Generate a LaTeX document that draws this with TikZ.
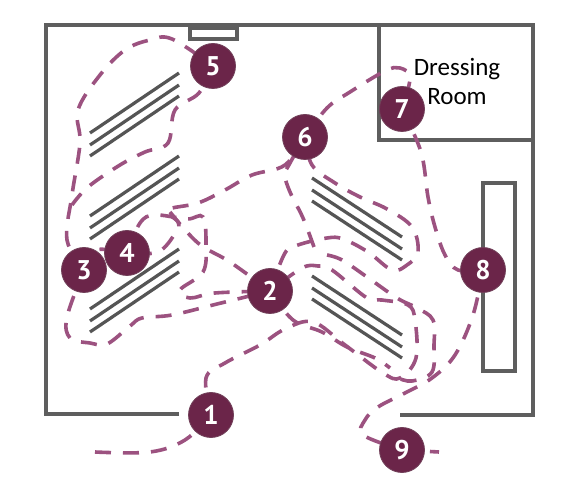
\documentclass[tikz,border=0pt]{standalone}
\usepackage{fontspec}
\setmainfont{Carlito}
\newfontfamily\numfont{PT Sans}
\usetikzlibrary{backgrounds}
\definecolor{plum}{HTML}{6B2549}
\definecolor{routec}{HTML}{9C5280}
\definecolor{wallc}{HTML}{5E5E5E}
\tikzset{
  wall/.style={draw=wallc,line width=3.4pt,line join=miter},
  rack/.style={draw=wallc!90!black,line width=3.2pt},
  route/.style={draw=routec,line width=3.6pt,dash pattern=on 16pt off 12pt},
  stopnode/.style={circle,fill=plum,draw=plum!70!gray,line width=0.8pt,minimum size=45pt,inner sep=0pt,text=white,font=\numfont\fontsize{27}{27}\selectfont\bfseries},
  label/.style={font=\fontsize{25}{25}\selectfont,text=black,inner sep=0pt}
}
\begin{document}
\begin{tikzpicture}[x=1pt,y=-1pt]
\useasboundingbox (0,0) rectangle (568,486);
\node[stopnode] (n1) at (211,415) {1};
\node[stopnode] (n2) at (270,291) {2};
\node[stopnode] (n3) at (84,270) {3};
\node[stopnode] (n4) at (127,253) {4};
\node[stopnode] (n5) at (213,66) {5};
\node[stopnode] (n6) at (305,137) {6};
\node[stopnode] (n7) at (402,109) {7};
\node[stopnode] (n8) at (483,270) {8};
\node[stopnode] (n9) at (402,450) {9};
\node[label] (dr) at (457,69) {Dressing};
\node[label] (rm) at (457,97) {Room};
\coordinate (s0) at (95,452);
\coordinate (e9) at (439,452);
\coordinate (t1) at (314,247);
\begin{pgfonlayer}{background}
\fill[white] (0,0) rectangle (568,486);
% walls
\draw[wall] (179,414) -- (46,414) -- (46,25) -- (533,25) -- (533,415) -- (400,415);
\draw[wall] (379,25) -- (379,140) -- (533,140);
\draw[wall] (190,28) rectangle (237,39);
\draw[wall] (483,183) rectangle (515,371);
% racks
\foreach \y in {0,12,23} {
  \draw[rack] (90,133+\y) -- (179,73+\y);
  \draw[rack] (90,216+\y) -- (179,156+\y);
  \draw[rack] (90,309+\y) -- (179,249+\y);
  \draw[rack] (312,178+\y) -- (402,237+\y);
  \draw[rack] (312,276+\y) -- (402,335+\y);
}
% routes
\draw[route] plot[smooth,tension=0.6] coordinates {(s0) (150,452) (185,440) (n1.center)};
\draw[route] plot[smooth,tension=0.6] coordinates {(n1.center) (206,378) (225,363) (260,345) (285,329) (313,322) (345,345) (383,373) (400,378) (416,358) (415,320) (408,305) (382,300) (367,298) (332,270) (318,266) (302,268) (n2.center)};
\draw[route] plot[smooth,tension=0.6] coordinates {(n2.center) (293,320) (322,332) (347,347) (375,358) (390,368)};
\draw[route] plot[smooth,tension=0.6] coordinates {(n2.center) (285,253) (298,245) (327,238) (343,239) (368,252) (392,270) (407,265) (418,252) (412,227) (387,209) (360,197) (335,183) (312,165) (n6.center)};
\draw[route] plot[smooth,tension=0.6] coordinates {(t1) (303,218) (290,192) (285,175) (290,163) (n6.center)};
\draw[route] plot[smooth,tension=0.6] coordinates {(327,255) (342,260) (367,277) (397,298) (417,308) (433,320) (434,345) (432,372) (412,381) (398,378)};
\draw[route] plot[smooth,tension=0.6] coordinates {(n6.center) (285,165) (252,175) (225,190) (198,203) (167,210) (178,222) (176,232) (158,252) (n4.center)};
\draw[route] plot[smooth,tension=0.6] coordinates {(n4.center) (140,223) (155,215) (187,219) (203,217) (206,245) (203,272) (180,290) (190,298) (215,293) (n2.center)};
\draw[route] plot[smooth,tension=0.6] coordinates {(170,212) (198,243) (230,262) (n2.center)};
\draw[route] plot[smooth,tension=0.6] coordinates {(n3.center) (67,240) (72,195) (80,143) (78,110) (100,75) (125,50) (150,40) (172,39) (n5.center)};
\draw[route] plot[smooth,tension=0.6] coordinates {(n5.center) (199,93) (175,110) (168,143) (145,152) (120,165) (88,187) (72,205)};
\draw[route] plot[smooth,tension=0.6] coordinates {(n3.center) (67,317) (70,338) (90,343) (107,344) (130,326) (142,318) (172,315) (217,304) (n2.center)};
\draw[route] plot[smooth,tension=0.6] coordinates {(n3.center) (95,250) (n4.center)};
\draw[route] plot[smooth,tension=0.6] coordinates {(n6.center) (327,108) (350,92) (385,71) (400,68) (410,78) (n7.center)};
\draw[route] plot[smooth,tension=0.6] coordinates {(n7.center) (421,152) (428,197) (435,227) (445,255) (458,270) (n8.center)};
\draw[route] plot[smooth,tension=0.6] coordinates {(n8.center) (473,315) (455,355) (432,378) (405,393) (378,407) (365,420) (363,435) (n9.center)};
\draw[route] (n9.center) -- (e9);
\end{pgfonlayer}
\end{tikzpicture}
\end{document}
